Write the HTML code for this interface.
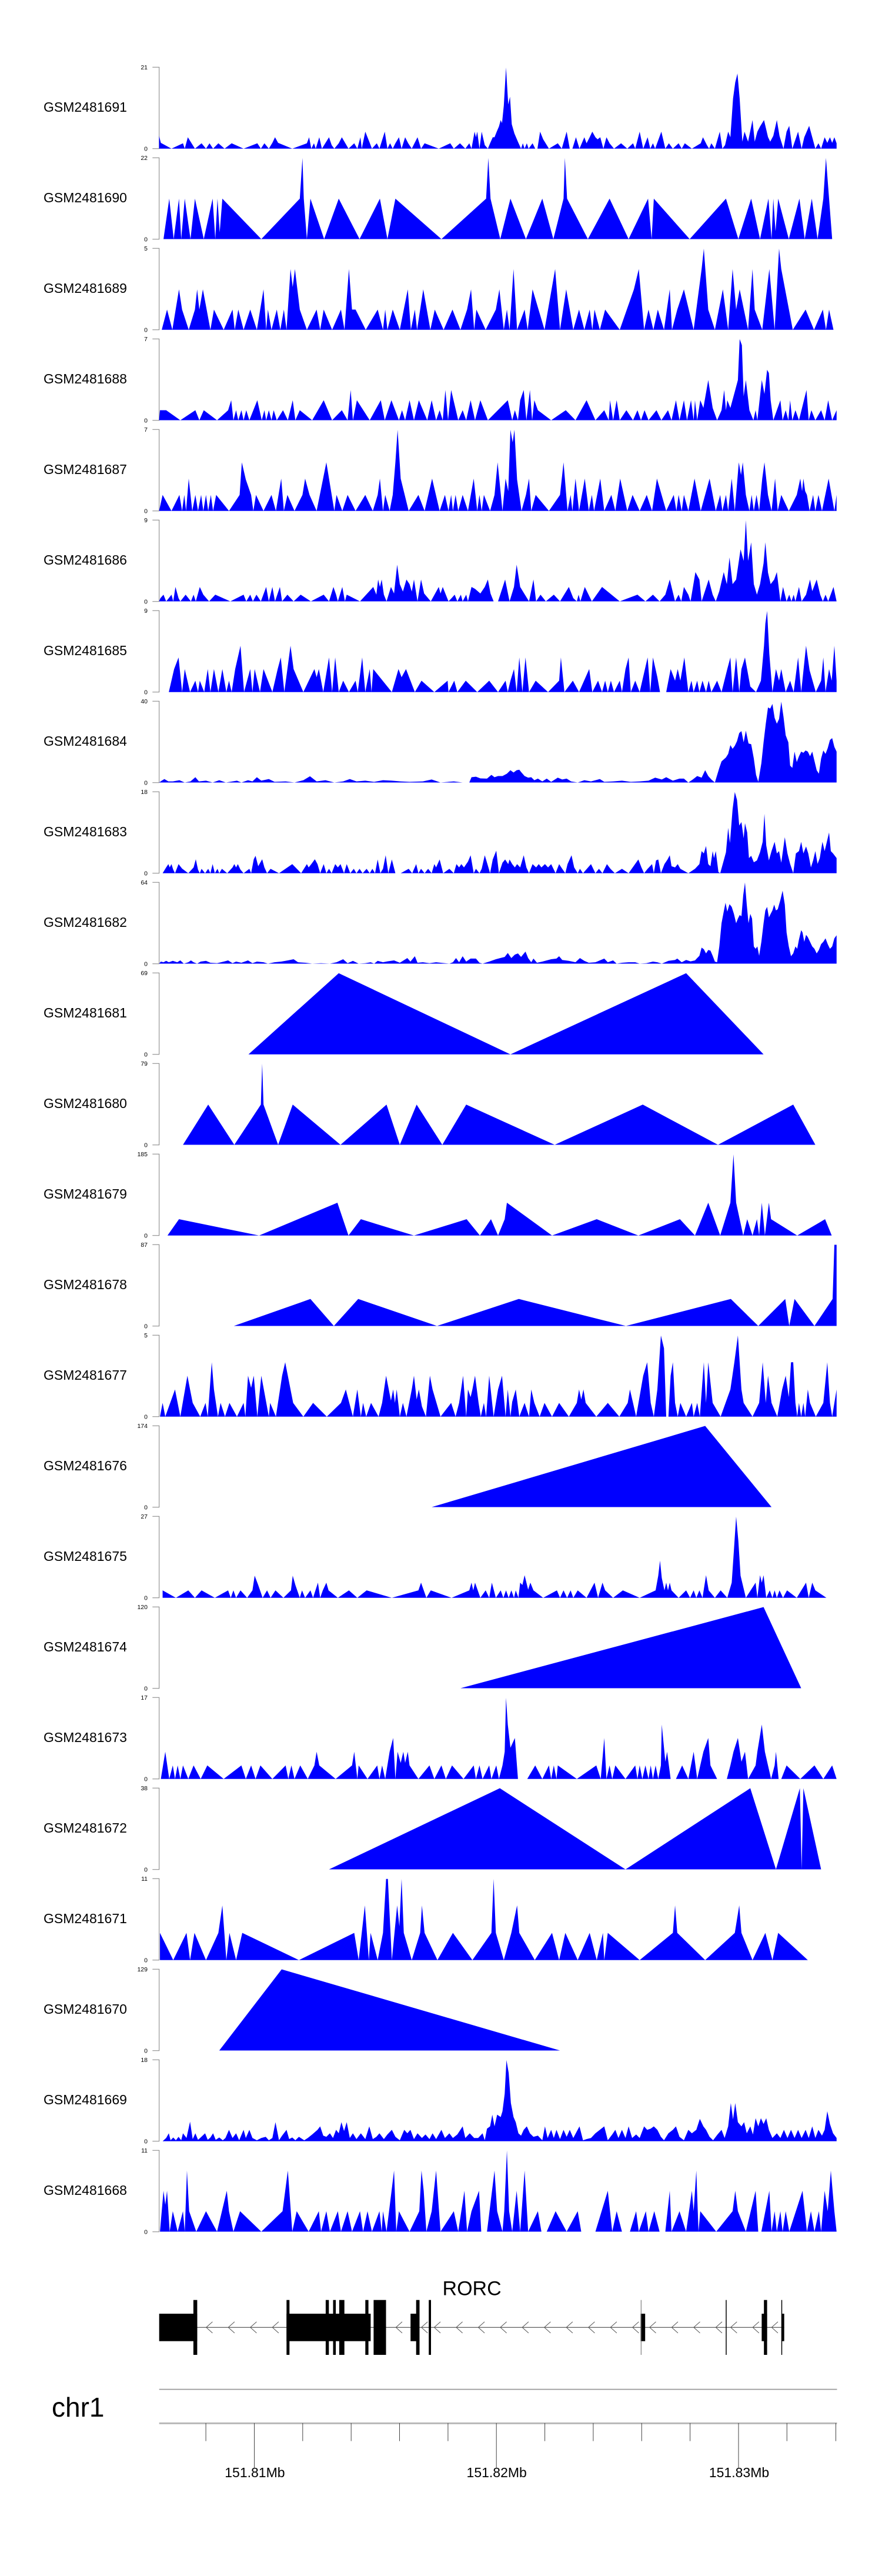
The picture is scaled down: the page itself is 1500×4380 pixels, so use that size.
<!DOCTYPE html>
<html>
<head>
<meta charset="utf-8">
<style>
html,body{margin:0;padding:0;background:#fff;}
svg{display:block;}
</style>
</head>
<body>
<svg xmlns="http://www.w3.org/2000/svg" width="1500" height="4380" viewBox="0 0 1500 4380" font-family="'Liberation Sans', Arial, sans-serif">
<rect x="0" y="0" width="1500" height="4380" fill="#ffffff"/>

<!-- Track labels -->
<g font-size="23" fill="#000">
<text x="74" y="190">GSM2481691</text>
<text x="74" y="344">GSM2481690</text>
<text x="74" y="498">GSM2481689</text>
<text x="74" y="652">GSM2481688</text>
<text x="74" y="806">GSM2481687</text>
<text x="74" y="960">GSM2481686</text>
<text x="74" y="1114">GSM2481685</text>
<text x="74" y="1268">GSM2481684</text>
<text x="74" y="1422">GSM2481683</text>
<text x="74" y="1576">GSM2481682</text>
<text x="74" y="1730">GSM2481681</text>
<text x="74" y="1884">GSM2481680</text>
<text x="74" y="2038">GSM2481679</text>
<text x="74" y="2192">GSM2481678</text>
<text x="74" y="2346">GSM2481677</text>
<text x="74" y="2500">GSM2481676</text>
<text x="74" y="2654">GSM2481675</text>
<text x="74" y="2808">GSM2481674</text>
<text x="74" y="2962">GSM2481673</text>
<text x="74" y="3116">GSM2481672</text>
<text x="74" y="3270">GSM2481671</text>
<text x="74" y="3424">GSM2481670</text>
<text x="74" y="3578">GSM2481669</text>
<text x="74" y="3732">GSM2481668</text>
</g>

<!-- Axes -->
<g fill="none" stroke="#808080" stroke-width="1">
<path d="M259.3,114.3H270.7V252.7H259.3"/>
<path d="M259.3,268.3H270.7V406.7H259.3"/>
<path d="M259.3,422.3H270.7V560.7H259.3"/>
<path d="M259.3,576.3H270.7V714.7H259.3"/>
<path d="M259.3,730.3H270.7V868.7H259.3"/>
<path d="M259.3,884.3H270.7V1022.7H259.3"/>
<path d="M259.3,1038.3H270.7V1176.7H259.3"/>
<path d="M259.3,1192.3H270.7V1330.7H259.3"/>
<path d="M259.3,1346.3H270.7V1484.7H259.3"/>
<path d="M259.3,1500.3H270.7V1638.7H259.3"/>
<path d="M259.3,1654.3H270.7V1792.7H259.3"/>
<path d="M259.3,1808.3H270.7V1946.7H259.3"/>
<path d="M259.3,1962.3H270.7V2100.7H259.3"/>
<path d="M259.3,2116.3H270.7V2254.7H259.3"/>
<path d="M259.3,2270.3H270.7V2408.7H259.3"/>
<path d="M259.3,2424.3H270.7V2562.7H259.3"/>
<path d="M259.3,2578.3H270.7V2716.7H259.3"/>
<path d="M259.3,2732.3H270.7V2870.7H259.3"/>
<path d="M259.3,2886.3H270.7V3024.7H259.3"/>
<path d="M259.3,3040.3H270.7V3178.7H259.3"/>
<path d="M259.3,3194.3H270.7V3332.7H259.3"/>
<path d="M259.3,3348.3H270.7V3486.7H259.3"/>
<path d="M259.3,3502.3H270.7V3640.7H259.3"/>
<path d="M259.3,3656.3H270.7V3794.7H259.3"/>
</g>

<!-- Tick labels -->
<g font-size="10.5" fill="#000" text-anchor="end">
<text x="251" y="118">21</text><text x="251" y="256.4">0</text>
<text x="251" y="272">22</text><text x="251" y="410.4">0</text>
<text x="251" y="426">5</text><text x="251" y="564.4">0</text>
<text x="251" y="580">7</text><text x="251" y="718.4">0</text>
<text x="251" y="734">7</text><text x="251" y="872.4">0</text>
<text x="251" y="888">9</text><text x="251" y="1026.4">0</text>
<text x="251" y="1042">9</text><text x="251" y="1180.4">0</text>
<text x="251" y="1196">40</text><text x="251" y="1334.4">0</text>
<text x="251" y="1350">18</text><text x="251" y="1488.4">0</text>
<text x="251" y="1504">64</text><text x="251" y="1642.4">0</text>
<text x="251" y="1658">69</text><text x="251" y="1796.4">0</text>
<text x="251" y="1812">79</text><text x="251" y="1950.4">0</text>
<text x="251" y="1966">185</text><text x="251" y="2104.4">0</text>
<text x="251" y="2120">87</text><text x="251" y="2258.4">0</text>
<text x="251" y="2274">5</text><text x="251" y="2412.4">0</text>
<text x="251" y="2428">174</text><text x="251" y="2566.4">0</text>
<text x="251" y="2582">27</text><text x="251" y="2720.4">0</text>
<text x="251" y="2736">120</text><text x="251" y="2874.4">0</text>
<text x="251" y="2890">17</text><text x="251" y="3028.4">0</text>
<text x="251" y="3044">38</text><text x="251" y="3182.4">0</text>
<text x="251" y="3198">11</text><text x="251" y="3336.4">0</text>
<text x="251" y="3352">129</text><text x="251" y="3490.4">0</text>
<text x="251" y="3506">18</text><text x="251" y="3644.4">0</text>
<text x="251" y="3660">11</text><text x="251" y="3798.4">0</text>
</g>

<!-- Data group 1: tracks 0-3 -->
<g fill="#0000ff" stroke="none" transform="translate(260,100.5) scale(0.7526,0.3954)">
<polygon points="14,385 14,330 18,360 42,385 68,362 72,385 79,336 95,385 110,362 120,385 128,362 136,385 148,362 162,385 178,362 205,385 236,362 244,385 252,362 262,385 270,360 276,336 283,360 315,385 348,362 353,336 358,385 364,362 368,385 376,336 382,385 398,336 404,370 410,385 420,362 427,336 442,385 455,362 462,385 469,336 472,385 480,312 490,360 495,385 506,362 512,385 524,312 530,385 536,362 542,385 548,362 556,336 562,385 570,336 577,362 585,385 598,336 606,385 614,362 646,385 672,362 680,385 694,362 706,385 715,362 720,385 727,312 730,336 733,312 738,385 743,312 750,370 757,385 762,362 768,336 772,336 777,312 782,290 786,262 789,275 793,200 798,36 803,195 807,162 811,280 817,320 826,360 832,385 836,362 840,385 845,362 849,385 858,362 864,385 869,385 875,312 882,345 895,385 915,362 924,385 935,312 942,385 948,385 956,336 964,385 975,336 980,362 987,336 993,312 1000,336 1005,345 1011,336 1018,385 1025,336 1032,362 1042,385 1058,362 1072,385 1085,362 1090,385 1100,312 1108,385 1118,336 1124,385 1130,362 1135,385 1149,312 1158,385 1166,362 1175,385 1188,362 1195,385 1202,362 1218,385 1238,362 1243,336 1252,370 1257,385 1262,362 1270,385 1281,312 1287,385 1293,370 1300,312 1305,336 1311,170 1316,100 1321,62 1326,170 1332,355 1337,312 1345,355 1355,262 1360,355 1366,312 1372,290 1381,262 1390,335 1395,355 1402,330 1410,262 1416,330 1420,355 1425,385 1432,312 1438,287 1445,385 1458,312 1466,385 1472,336 1483,287 1490,336 1497,385 1504,362 1510,385 1518,336 1524,360 1530,336 1535,360 1540,336 1545,362 1545,385"/>
<polygon points="24,774 37,600 47,774 59,600 64,774 72,600 85,774 95,600 115,774 135,600 141,774 146,600 151,745 157,600 245,774 332,600 338,425 341,600 348,774 356,600 387,774 420,600 467,774 513,600 530,774 548,600 652,774 753,600 758,425 763,600 785,774 808,600 843,774 880,600 905,774 928,600 931,425 936,600 983,774 1032,600 1075,774 1119,600 1127,774 1132,600 1213,774 1295,600 1323,774 1352,600 1372,774 1391,600 1398,774 1402,600 1407,740 1413,600 1437,774 1461,600 1473,774 1489,600 1502,774 1515,600 1521,425 1535,774"/>
<polygon points="20,1164 32,1077 44,1164 59,990 66,1077 81,1164 95,1077 100,990 105,1077 113,990 130,1164 138,1077 160,1164 180,1077 185,1164 193,1077 205,1164 220,1077 235,1164 250,990 256,1164 260,1077 268,1164 280,1077 288,1164 296,1077 302,1164 311,903 316,980 321,903 332,1077 348,1164 370,1077 378,1164 386,1077 405,1164 425,1077 433,1164 443,903 450,1077 458,1077 481,1164 508,1077 520,1164 525,1077 530,1164 542,1077 558,1164 576,990 583,1164 592,1077 597,1164 611,990 627,1164 637,1077 657,1164 677,1077 695,1164 710,1077 719,990 726,1164 731,1077 752,1164 775,1077 783,990 793,1164 800,1077 806,1164 815,903 823,1164 840,1077 847,1164 858,990 885,1164 909,903 920,1164 934,990 950,1164 963,1077 975,1164 987,1077 993,1164 998,1077 1010,1164 1022,1077 1055,1164 1087,990 1098,903 1110,1164 1120,1077 1131,1164 1141,1077 1155,1164 1168,990 1173,1164 1185,1077 1200,990 1222,1164 1240,903 1245,815 1255,1077 1270,1164 1288,990 1300,1164 1310,903 1318,1077 1326,990 1345,1164 1355,903 1360,1077 1377,1164 1393,903 1405,1164 1415,815 1420,903 1446,1164 1475,1077 1494,1164 1514,1077 1521,1164 1528,1077 1538,1164"/>
<polygon points="14,1553 16,1510 30,1510 62,1553 96,1510 105,1553 115,1510 145,1553 170,1510 177,1467 182,1553 188,1510 193,1553 200,1510 205,1553 211,1510 218,1553 236,1467 246,1553 252,1510 256,1553 262,1510 268,1553 273,1510 280,1553 294,1510 305,1553 316,1467 322,1553 332,1510 360,1553 386,1467 405,1553 427,1510 440,1553 447,1423 452,1553 461,1467 490,1553 515,1467 524,1553 539,1467 556,1553 563,1510 570,1553 580,1467 590,1553 601,1467 620,1553 630,1467 640,1553 648,1510 655,1553 661,1423 667,1553 674,1423 690,1553 700,1510 708,1553 718,1467 728,1553 740,1467 757,1553 802,1467 812,1553 818,1510 825,1553 830,1467 838,1423 844,1553 852,1423 857,1553 862,1467 870,1510 900,1553 933,1510 955,1553 980,1467 1000,1553 1020,1510 1030,1553 1033,1467 1040,1553 1048,1467 1055,1553 1070,1510 1085,1553 1095,1510 1103,1553 1111,1510 1120,1553 1138,1510 1149,1553 1164,1510 1172,1553 1182,1467 1190,1553 1200,1467 1207,1553 1216,1467 1222,1553 1225,1467 1230,1553 1237,1467 1244,1500 1255,1380 1265,1500 1275,1553 1285,1510 1291,1423 1295,1510 1298,1467 1305,1500 1315,1430 1322,1380 1326,1204 1331,1230 1335,1450 1340,1380 1348,1510 1357,1553 1362,1510 1366,1553 1376,1380 1382,1440 1388,1336 1392,1350 1396,1467 1402,1553 1410,1510 1418,1467 1423,1553 1430,1510 1436,1553 1440,1467 1445,1553 1452,1510 1460,1553 1477,1423 1482,1553 1488,1510 1497,1553 1510,1510 1518,1553 1526,1467 1535,1553 1545,1510 1545,1553"/>
</g>

<!-- Data group 2: tracks 4-7 -->
<g fill="#0000ff" stroke="none" transform="translate(260,716.5) scale(0.7526,0.3954)">
<polygon points="14,385 22,316 42,385 60,316 66,385 71,316 75,385 81,246 89,385 96,316 102,385 109,316 114,385 120,316 125,385 131,316 136,385 143,316 172,385 196,316 201,176 210,250 222,316 227,385 233,316 250,385 268,316 278,385 290,246 296,385 304,316 320,385 338,316 344,246 354,316 370,385 392,176 410,385 415,316 428,385 440,316 458,385 480,316 497,385 508,316 513,246 520,385 525,316 535,385 542,316 548,176 553,36 560,246 578,385 600,316 614,385 631,246 648,385 660,316 668,385 674,316 678,385 684,316 690,385 700,316 712,385 725,246 733,385 738,316 743,385 748,316 762,385 772,316 779,176 790,385 797,246 803,300 808,36 813,90 817,36 823,250 833,385 843,316 850,246 855,385 865,316 895,385 920,316 928,176 937,385 944,316 948,385 955,246 963,385 976,246 985,385 992,316 997,385 1011,246 1020,385 1036,316 1045,385 1056,246 1072,385 1084,316 1100,385 1116,316 1128,385 1139,246 1160,385 1177,316 1183,385 1188,316 1195,385 1200,316 1210,385 1224,246 1238,385 1258,246 1272,385 1282,316 1287,385 1295,316 1300,385 1308,246 1315,385 1324,176 1329,230 1333,176 1340,316 1348,385 1353,316 1358,385 1364,316 1370,385 1377,246 1382,176 1390,316 1398,385 1406,246 1412,385 1420,316 1437,385 1455,316 1463,246 1467,300 1470,246 1474,300 1478,316 1484,385 1492,316 1497,385 1504,316 1512,385 1527,246 1540,385 1545,316 1545,385"/>
<polygon points="14,774 17,760 24,745 30,774 36,760 42,745 46,774 51,712 58,760 62,774 74,745 86,774 92,745 97,774 106,712 114,745 127,774 141,745 175,774 205,745 211,774 220,745 226,774 234,745 244,774 256,712 262,774 270,712 276,774 287,712 292,774 304,745 318,774 334,745 357,774 386,745 398,774 408,712 414,745 418,774 428,712 434,774 438,745 468,774 498,712 505,745 509,680 513,712 517,680 522,745 528,774 538,712 545,740 552,616 558,700 565,732 573,680 580,700 585,732 590,680 598,774 606,680 613,740 628,774 646,712 650,740 655,712 668,774 675,760 682,745 688,774 696,745 700,774 708,745 712,774 720,712 728,720 740,740 750,712 757,680 763,740 770,774 780,774 796,680 806,774 816,712 822,616 830,712 850,774 860,680 866,774 876,745 888,774 906,745 920,774 940,712 950,760 958,774 962,745 966,774 976,712 992,774 1015,712 1055,774 1095,745 1113,774 1130,745 1145,774 1158,745 1168,680 1180,774 1188,745 1194,774 1200,712 1210,745 1215,774 1226,648 1235,680 1240,774 1256,680 1265,745 1272,774 1280,730 1290,648 1297,700 1303,585 1310,700 1318,680 1328,550 1335,600 1340,425 1345,600 1352,520 1358,700 1365,745 1372,700 1380,610 1384,520 1390,650 1396,700 1404,680 1410,648 1418,774 1424,712 1432,774 1438,745 1443,774 1448,745 1452,774 1460,712 1466,774 1476,745 1485,680 1490,730 1500,680 1508,745 1514,774 1520,745 1526,774 1538,712 1545,774"/>
<polygon points="36,1164 48,1065 58,1015 66,1164 72,1065 84,1164 96,1115 102,1164 106,1115 116,1164 124,1065 130,1164 138,1065 148,1164 157,1065 166,1164 172,1115 178,1164 186,1065 198,965 206,1164 220,1065 225,1164 230,1065 242,1164 250,1065 270,1164 282,1065 289,1015 297,1164 311,965 318,1065 340,1164 365,1065 370,1100 375,1065 385,1164 398,1015 405,1164 412,1015 420,1164 430,1115 443,1164 458,1115 463,1164 473,1015 480,1164 490,1065 494,1164 498,1065 540,1164 555,1065 562,1100 572,1065 592,1164 607,1115 636,1164 666,1115 668,1164 681,1115 688,1164 707,1115 733,1164 760,1115 780,1164 797,1115 802,1164 808,1115 816,1065 822,1164 828,1015 835,1164 842,1015 850,1164 865,1115 893,1164 918,1115 922,1015 930,1164 949,1115 963,1164 986,1065 993,1164 1006,1115 1015,1164 1022,1115 1028,1164 1035,1115 1042,1164 1055,1115 1060,1164 1068,1065 1075,1015 1080,1164 1090,1115 1100,1164 1118,1015 1124,1164 1130,1015 1140,1100 1146,1164 1160,1164 1170,1065 1180,1115 1186,1065 1192,1115 1201,1015 1210,1164 1217,1115 1222,1164 1230,1115 1235,1164 1242,1115 1250,1164 1256,1115 1262,1164 1275,1115 1285,1164 1298,1065 1305,1015 1310,1164 1318,1015 1325,1164 1330,1065 1338,1015 1350,1140 1363,1164 1374,1115 1381,965 1384,870 1388,815 1393,1000 1400,1164 1408,1065 1415,1115 1420,1065 1430,1164 1440,1115 1448,1164 1458,1015 1465,1164 1476,965 1484,1070 1498,1164 1510,1115 1515,1015 1520,1164 1528,1065 1534,1115 1540,965 1545,1115 1545,1164"/>
<polygon points="14,1553 20,1545 26,1538 35,1548 45,1548 60,1543 72,1553 85,1548 96,1530 104,1548 120,1545 135,1553 150,1543 165,1553 190,1545 200,1553 215,1543 225,1548 235,1530 245,1545 262,1538 275,1550 300,1548 320,1553 340,1543 355,1526 370,1548 390,1543 410,1553 430,1548 445,1538 460,1548 480,1545 500,1550 520,1543 540,1545 560,1548 580,1550 610,1548 630,1540 650,1553 680,1548 700,1553 715,1553 720,1530 730,1528 740,1535 755,1536 765,1520 772,1530 780,1525 790,1525 800,1515 808,1500 815,1510 822,1500 828,1498 833,1510 840,1525 848,1532 855,1530 862,1543 870,1536 880,1548 890,1536 900,1550 915,1532 925,1540 935,1536 945,1548 960,1553 975,1543 990,1548 1010,1538 1020,1550 1040,1548 1060,1545 1080,1550 1100,1548 1120,1545 1135,1532 1150,1540 1160,1530 1175,1545 1190,1536 1200,1536 1210,1553 1220,1540 1230,1525 1240,1532 1248,1500 1255,1525 1262,1540 1270,1553 1280,1490 1285,1462 1295,1445 1300,1430 1305,1392 1310,1408 1315,1395 1320,1375 1325,1340 1330,1332 1335,1380 1340,1330 1346,1385 1352,1388 1358,1450 1363,1520 1368,1550 1375,1470 1380,1380 1385,1300 1390,1230 1395,1235 1400,1215 1405,1275 1410,1300 1415,1280 1420,1205 1425,1270 1430,1350 1436,1380 1440,1480 1445,1490 1450,1420 1455,1465 1460,1440 1465,1420 1470,1425 1475,1415 1480,1420 1485,1440 1490,1420 1495,1460 1500,1500 1505,1515 1510,1450 1515,1415 1520,1430 1525,1405 1530,1370 1535,1362 1540,1400 1545,1420 1545,1553"/>
</g>

<!-- Data group 3: tracks 8-11 -->
<g fill="#0000ff" stroke="none" transform="translate(260,1332.5) scale(0.7526,0.3954)">
<polygon points="22,385 30,360 35,346 38,360 42,346 46,370 50,385 58,346 66,365 80,385 92,360 97,325 102,370 106,385 110,366 118,385 125,366 130,385 135,346 140,385 146,366 150,385 156,366 168,385 180,360 184,346 188,360 192,346 198,370 205,385 218,366 222,385 228,325 232,310 238,355 247,325 252,360 258,385 266,366 285,385 315,346 335,385 348,346 352,360 358,346 366,325 372,346 378,385 386,346 392,385 398,366 404,385 412,346 418,360 424,346 432,385 438,346 446,385 454,366 460,385 467,366 474,385 483,366 490,385 496,366 502,385 508,326 514,385 520,366 526,308 532,385 540,326 548,385 560,385 578,366 586,385 595,346 600,385 606,366 614,385 622,366 630,385 636,346 640,360 648,326 656,385 670,366 680,385 686,346 692,360 697,346 703,360 712,335 718,308 725,385 730,366 738,385 743,366 750,308 756,346 762,385 768,326 776,288 782,385 790,340 796,326 803,346 806,326 812,346 818,360 823,346 830,360 838,308 844,360 850,385 858,346 866,360 872,346 878,360 886,346 893,360 900,346 910,385 918,346 925,366 932,385 937,346 946,308 952,360 960,385 965,366 972,385 990,346 1000,385 1008,366 1016,385 1026,346 1034,366 1044,385 1060,366 1075,385 1097,326 1104,360 1110,385 1118,366 1128,346 1132,385 1137,330 1142,326 1148,385 1156,346 1163,326 1168,308 1172,355 1180,360 1186,346 1192,366 1210,385 1225,366 1235,346 1240,290 1245,300 1250,268 1255,346 1260,355 1265,290 1268,320 1272,290 1278,380 1282,385 1290,330 1295,295 1300,190 1304,255 1310,110 1315,36 1320,70 1325,180 1330,165 1335,235 1338,170 1343,210 1347,320 1352,310 1358,338 1365,330 1372,295 1378,250 1382,130 1386,265 1392,330 1398,290 1405,250 1410,300 1415,290 1420,340 1428,230 1434,300 1440,345 1447,385 1453,300 1460,290 1465,250 1470,300 1476,270 1481,300 1487,360 1492,330 1497,290 1502,345 1507,320 1513,250 1518,290 1523,250 1528,210 1532,290 1537,300 1545,320 1545,385"/>
<polygon points="14,774 18,765 24,768 30,762 36,768 45,762 55,768 62,760 70,774 80,768 86,760 92,768 100,774 108,765 120,762 130,770 145,772 160,765 170,760 180,772 188,765 200,770 215,760 225,772 235,765 250,768 260,774 275,768 290,765 305,760 318,755 328,768 345,770 360,774 380,772 400,774 415,768 430,755 440,772 452,762 465,774 480,772 492,768 500,774 508,762 520,768 530,764 545,760 558,770 575,750 582,765 592,742 598,770 610,768 625,772 640,768 660,772 670,774 678,768 685,750 692,768 700,742 708,765 718,752 730,752 738,770 745,774 760,765 775,755 785,750 795,745 802,728 810,750 818,735 825,730 832,745 842,722 848,750 855,768 860,752 868,770 880,765 890,760 900,755 912,752 918,742 925,758 940,762 955,768 965,750 975,762 985,770 1000,768 1010,760 1020,752 1028,768 1040,760 1048,774 1060,770 1075,768 1090,768 1100,774 1115,772 1130,765 1140,768 1150,774 1165,762 1180,758 1185,752 1195,768 1205,758 1215,764 1225,760 1230,750 1235,740 1240,705 1245,712 1250,730 1255,715 1260,718 1265,740 1270,765 1275,768 1280,700 1285,600 1290,550 1294,512 1298,550 1303,518 1308,530 1313,560 1318,600 1322,580 1326,565 1330,570 1334,480 1338,425 1342,520 1346,600 1350,560 1354,580 1358,700 1362,710 1366,700 1370,740 1375,680 1380,600 1384,545 1388,530 1392,575 1396,560 1400,545 1404,520 1408,545 1412,540 1418,500 1423,460 1428,520 1432,640 1437,700 1442,742 1447,730 1452,700 1456,710 1460,670 1465,630 1468,640 1472,680 1476,650 1480,660 1485,680 1490,700 1495,710 1500,730 1505,715 1510,690 1515,680 1520,665 1525,690 1530,710 1535,700 1540,665 1545,652 1545,774"/>
<polygon points="216,1164 420,815 808,1164 1205,815 1380,1164"/>
<polygon points="68,1553 125,1380 184,1553 244,1380 247,1204 250,1380 283,1553 316,1380 424,1553 528,1380 558,1553 596,1380 654,1553 708,1380 908,1553 1107,1380 1277,1553 1447,1380 1497,1553"/>
</g>

<!-- Data group 4: tracks 12-15 -->
<g fill="#0000ff" stroke="none" transform="translate(260,1948.5) scale(0.7526,0.3954)">
<polygon points="33,385 59,315 240,385 417,244 442,385 470,315 590,385 709,315 739,385 764,315 780,385 795,315 800,244 902,385 1003,315 1097,385 1191,315 1225,385 1255,244 1282,385 1305,244 1312,36 1318,244 1334,385 1343,315 1355,385 1365,315 1370,385 1376,244 1383,385 1392,244 1397,315 1456,385 1519,315 1534,385"/>
<polygon points="183,774 356,658 409,774 464,658 642,774 827,658 1069,774 1306,658 1368,774 1429,658 1438,774 1450,658 1495,774 1536,658 1540,425 1545,425 1545,774"/>
<polygon points="16,1164 22,1105 28,1164 50,1047 62,1164 78,988 84,1047 90,1105 107,1164 119,1105 124,1164 133,930 138,1047 147,1164 153,1105 163,1164 173,1105 190,1164 205,1105 209,1164 215,988 222,1040 228,988 236,1164 245,988 252,1060 262,1164 265,1105 278,1164 292,988 299,930 317,1105 340,1164 362,1105 393,1164 425,1105 436,1047 452,1164 462,1047 470,1164 475,1105 482,1164 493,1105 510,1164 518,1105 527,988 538,1095 543,1047 547,1105 551,1047 558,1164 565,1105 573,1164 585,1047 590,988 596,1090 601,1047 608,1120 617,1164 626,988 632,1047 650,1164 674,1105 684,1164 692,1105 701,988 708,1164 712,1047 718,1080 722,1047 728,988 736,1105 741,1164 748,1105 753,1164 760,988 770,1164 780,1047 789,988 797,1164 802,1047 808,1164 812,1100 820,1047 828,1164 840,1105 850,1164 855,1047 862,1105 874,1164 885,1105 902,1164 918,1105 940,1164 958,1105 963,1047 968,1090 973,1047 978,1105 1002,1164 1028,1105 1054,1164 1073,1105 1078,1047 1085,1105 1092,1164 1108,988 1117,930 1125,1105 1132,1164 1140,1047 1148,815 1155,870 1160,1164 1165,1164 1170,988 1175,930 1180,1105 1186,1164 1192,1105 1205,1164 1218,1105 1222,1164 1230,1105 1236,1164 1245,930 1250,1105 1255,930 1265,1105 1283,1164 1305,1047 1314,930 1322,815 1330,1047 1335,1105 1355,1164 1370,1105 1378,930 1385,1105 1390,988 1398,1105 1411,1164 1422,1047 1430,988 1437,1080 1442,930 1447,930 1452,1105 1456,1164 1460,1105 1465,1164 1470,1105 1474,1164 1480,1047 1485,1105 1498,1164 1515,1105 1524,930 1530,1105 1535,1164 1540,1105 1545,1047 1545,1164"/>
<polygon points="630,1553 1248,1204 1398,1553"/>
</g>

<!-- Data group 5: tracks 16-19 -->
<g fill="#0000ff" stroke="none" transform="translate(260,2564.5) scale(0.7526,0.3954)">
<polygon points="22,385 22,353 52,385 80,353 95,385 110,353 140,385 170,353 176,385 182,353 188,385 198,353 213,385 225,353 230,290 238,330 248,385 258,353 266,385 277,353 295,385 312,353 316,290 322,330 332,385 337,353 344,385 356,353 362,385 373,320 378,385 384,353 392,320 397,353 418,385 443,353 462,385 483,353 540,385 600,353 606,320 618,385 628,353 675,385 715,353 720,320 724,353 728,320 740,385 752,353 760,385 766,320 775,385 786,353 792,385 798,353 804,385 810,353 816,385 820,353 826,385 830,320 835,330 840,288 848,350 853,320 860,353 882,385 913,353 920,385 928,353 936,385 944,353 950,385 960,353 980,385 998,320 1006,385 1016,320 1022,353 1040,385 1062,353 1100,385 1136,353 1142,290 1146,225 1150,300 1156,353 1160,320 1164,353 1168,320 1172,353 1188,385 1205,353 1214,385 1222,353 1228,385 1235,353 1242,385 1250,288 1256,353 1270,385 1283,353 1298,385 1308,320 1313,180 1318,36 1323,140 1328,290 1340,385 1362,320 1366,385 1372,288 1376,320 1380,288 1386,385 1394,353 1400,385 1405,353 1410,385 1416,353 1424,385 1433,353 1455,385 1476,320 1482,385 1490,320 1497,353 1522,385"/>
<polygon points="695,774 1380,425 1465,774"/>
<polygon points="18,1164 28,1047 37,1164 45,1106 50,1164 56,1106 62,1164 68,1106 80,1164 92,1106 108,1164 123,1106 160,1164 200,1106 210,1164 222,1106 232,1164 243,1106 270,1164 300,1106 306,1164 313,1106 320,1164 333,1106 350,1164 365,1106 370,1047 376,1106 413,1164 450,1106 455,1047 462,1164 465,1106 485,1164 507,1106 512,1164 518,1106 525,1164 535,1047 543,988 548,1164 553,1047 560,1095 566,1047 570,1095 576,1047 580,1106 600,1164 625,1106 636,1164 652,1106 662,1164 676,1106 702,1164 725,1106 730,1164 738,1106 745,1164 760,1106 765,1164 776,1106 782,1164 790,1106 795,1047 798,815 802,930 808,1030 818,988 825,1164 846,1164 864,1106 880,1164 895,1106 900,1164 906,1106 912,1164 915,1106 958,1164 1002,1106 1012,1164 1020,988 1025,1164 1032,1106 1038,1164 1045,1106 1068,1164 1090,1106 1095,1164 1100,1106 1106,1164 1113,1106 1120,1164 1125,1106 1130,1164 1136,1106 1142,1164 1148,1106 1150,930 1158,1090 1162,1047 1170,1164 1182,1164 1196,1106 1210,1164 1222,1047 1230,1164 1244,1047 1255,988 1260,1106 1275,1164 1297,1164 1305,1106 1312,1047 1322,988 1330,1090 1338,1047 1345,1164 1362,1106 1366,1047 1376,930 1383,1047 1390,1106 1397,1164 1405,1106 1408,1047 1414,1164 1420,1164 1432,1106 1463,1164 1495,1106 1515,1164 1535,1106 1545,1164"/>
<polygon points="398,1553 784,1204 1068,1553 1350,1204 1408,1553 1462,1204 1466,1553 1470,1204 1510,1553"/>
</g>

<!-- Data group 6: tracks 20-23 -->
<g fill="#0000ff" stroke="none" transform="translate(260,3180.5) scale(0.7526,0.3954)">
<polygon points="16,385 16,268 46,385 76,268 84,385 94,268 120,385 148,268 157,150 166,385 173,268 188,385 202,268 330,385 455,268 465,385 479,150 488,385 492,268 508,385 520,268 527,36 531,36 540,385 552,150 557,240 562,36 567,268 585,385 604,268 608,150 614,268 643,385 678,268 722,385 765,268 770,36 775,268 793,385 810,268 823,150 828,268 863,385 902,268 918,385 932,268 960,385 987,268 1003,385 1017,268 1020,385 1028,268 1100,385 1175,268 1180,150 1185,268 1248,385 1315,268 1325,150 1330,268 1355,385 1384,268 1400,385 1413,268 1480,385"/>
<polygon points="150,774 291,425 920,774"/>
<polygon points="22,1164 30,1150 36,1130 40,1160 46,1148 52,1160 58,1145 64,1160 68,1130 76,1150 84,1080 90,1155 96,1130 102,1158 108,1148 118,1130 124,1158 130,1148 136,1130 142,1158 150,1148 158,1160 164,1150 172,1115 180,1150 188,1130 195,1160 205,1115 210,1150 218,1115 225,1150 235,1160 245,1150 255,1145 262,1160 270,1150 277,1082 285,1160 292,1140 302,1115 308,1155 315,1148 322,1160 330,1145 342,1160 350,1150 360,1135 372,1115 378,1100 385,1140 392,1145 400,1130 407,1150 414,1115 420,1130 426,1082 432,1120 438,1082 445,1150 452,1130 460,1155 470,1130 480,1155 489,1100 497,1155 505,1145 512,1130 522,1155 530,1135 540,1115 548,1145 558,1160 568,1115 575,1130 582,1115 590,1155 598,1130 608,1150 616,1135 625,1155 632,1130 640,1155 652,1115 660,1150 670,1130 678,1150 688,1135 700,1100 706,1150 716,1130 726,1150 735,1150 745,1130 750,1160 755,1110 762,1100 767,1050 772,1100 778,1050 786,1060 790,1035 795,960 799,815 804,870 809,1000 815,1060 820,1082 826,1130 832,1140 838,1115 845,1100 852,1130 860,1145 870,1140 880,1160 886,1100 892,1150 900,1115 906,1150 912,1115 920,1155 928,1115 935,1145 942,1115 950,1150 964,1100 972,1160 980,1155 990,1150 1000,1130 1010,1115 1020,1100 1028,1160 1038,1135 1045,1115 1052,1150 1060,1115 1068,1150 1075,1100 1083,1150 1092,1135 1100,1150 1110,1100 1117,1115 1125,1110 1132,1100 1140,1115 1148,1145 1155,1160 1165,1130 1175,1115 1182,1100 1190,1145 1200,1160 1210,1115 1218,1130 1228,1115 1236,1068 1244,1100 1250,1115 1258,1145 1266,1160 1276,1135 1285,1115 1292,1150 1300,1100 1306,1000 1311,1070 1316,1000 1322,1082 1330,1100 1336,1082 1342,1130 1350,1100 1356,1135 1362,1065 1368,1100 1374,1065 1380,1090 1386,1065 1392,1115 1400,1150 1410,1130 1418,1150 1426,1115 1434,1150 1442,1115 1450,1150 1458,1115 1466,1150 1475,1115 1482,1150 1490,1100 1497,1150 1504,1115 1512,1140 1518,1115 1524,1035 1530,1090 1537,1130 1545,1150 1545,1164"/>
<polygon points="16,1553 24,1377 28,1437 32,1377 38,1553 45,1465 56,1553 68,1465 72,1553 77,1290 82,1465 98,1553 120,1465 145,1553 167,1377 172,1465 182,1553 197,1465 245,1553 293,1465 305,1290 315,1553 325,1465 352,1553 375,1465 380,1553 392,1465 400,1553 418,1465 425,1553 440,1465 450,1553 468,1465 475,1553 485,1465 495,1553 512,1465 517,1553 520,1465 528,1553 545,1290 550,1553 556,1465 580,1553 602,1465 607,1290 612,1377 618,1553 630,1465 640,1290 650,1553 680,1465 690,1553 704,1377 710,1553 720,1465 737,1377 742,1553 755,1553 772,1290 778,1465 790,1553 794,1465 800,1204 805,1465 812,1553 822,1377 830,1553 840,1290 848,1553 870,1465 878,1553 890,1553 910,1465 935,1553 960,1465 968,1553 1000,1553 1028,1377 1038,1553 1048,1465 1060,1553 1078,1553 1092,1465 1098,1553 1114,1465 1120,1553 1133,1465 1145,1553 1158,1553 1168,1377 1172,1553 1190,1465 1205,1553 1218,1377 1222,1465 1228,1290 1233,1553 1237,1465 1273,1553 1310,1465 1316,1377 1322,1465 1340,1553 1362,1377 1368,1553 1375,1553 1393,1377 1398,1553 1405,1465 1410,1553 1418,1465 1423,1553 1430,1465 1438,1553 1468,1377 1478,1553 1487,1465 1495,1553 1505,1465 1510,1553 1518,1377 1525,1465 1532,1290 1540,1465 1545,1553"/>
</g>

<!-- Gene track -->
<text x="802.6" y="3902.7" font-size="34" text-anchor="middle" fill="#000">RORC</text>
<line x1="335" y1="3957.3" x2="1333.7" y2="3957.3" stroke="#333" stroke-width="1"/>
<g fill="none" stroke="#555" stroke-width="1">
<path d="M361.4,3947.7L350.7,3957.3L361.4,3966.9"/>
<path d="M398.9,3947.7L388.2,3957.3L398.9,3966.9"/>
<path d="M436.4,3947.7L425.7,3957.3L436.4,3966.9"/>
<path d="M473.9,3947.7L463.2,3957.3L473.9,3966.9"/>
<path d="M684,3947.7L673.3,3957.3L684,3966.9"/>
<path d="M727.3,3947.7L716.6,3957.3L727.3,3966.9"/>
<path d="M749.1,3947.7L738.4,3957.3L749.1,3966.9"/>
<path d="M786.6,3947.7L775.9,3957.3L786.6,3966.9"/>
<path d="M824.1,3947.7L813.4,3957.3L824.1,3966.9"/>
<path d="M861.6,3947.7L850.9,3957.3L861.6,3966.9"/>
<path d="M898.9,3947.7L888.2,3957.3L898.9,3966.9"/>
<path d="M936.4,3947.7L925.7,3957.3L936.4,3966.9"/>
<path d="M973.9,3947.7L963.2,3957.3L973.9,3966.9"/>
<path d="M1011.4,3947.7L1000.7,3957.3L1011.4,3966.9"/>
<path d="M1048.9,3947.7L1038.2,3957.3L1048.9,3966.9"/>
<path d="M1086.4,3947.7L1075.7,3957.3L1086.4,3966.9"/>
<path d="M1115.5,3947.7L1104.8,3957.3L1115.5,3966.9"/>
<path d="M1153,3947.7L1142.3,3957.3L1153,3966.9"/>
<path d="M1190.5,3947.7L1179.8,3957.3L1190.5,3966.9"/>
<path d="M1228,3947.7L1217.3,3957.3L1228,3966.9"/>
<path d="M1253.3,3947.7L1242.6,3957.3L1253.3,3966.9"/>
<path d="M1290.8,3947.7L1280.1,3957.3L1290.8,3966.9"/>
<path d="M1323,3947.7L1312.3,3957.3L1323,3966.9"/>
</g>
<g fill="#000">
<!-- medium boxes -->
<rect x="270.7" y="3934" width="64.7" height="46.7"/>
<rect x="487.3" y="3934" width="143.1" height="46.7"/>
<rect x="698.2" y="3934" width="15.3" height="46.7"/>
<rect x="1089.5" y="3934" width="7.7" height="46.7"/>
<rect x="1295.4" y="3934" width="9.2" height="46.7"/>
<rect x="1329.5" y="3934" width="4.2" height="46.7"/>
<!-- tall bars -->
<rect x="328.9" y="3910.7" width="6.5" height="93.3"/>
<rect x="487.3" y="3910.7" width="5" height="93.3"/>
<rect x="553.9" y="3910.7" width="5.4" height="93.3"/>
<rect x="566.5" y="3910.7" width="4.6" height="93.3"/>
<rect x="576.9" y="3910.7" width="8.8" height="93.3"/>
<rect x="621.3" y="3910.7" width="5.3" height="93.3"/>
<rect x="635.4" y="3910.7" width="21.1" height="93.3"/>
<rect x="707.7" y="3910.7" width="5.8" height="93.3"/>
<rect x="729.2" y="3910.7" width="3.8" height="93.3"/>
<rect x="1299.2" y="3910.7" width="5.4" height="93.3"/>
</g>
<line x1="1090.3" y1="3910.7" x2="1090.3" y2="4004" stroke="#666" stroke-width="1"/>
<line x1="1235" y1="3910.7" x2="1235" y2="4004" stroke="#000" stroke-width="1.5"/>
<line x1="1329.5" y1="3910.7" x2="1329.5" y2="4004" stroke="#000" stroke-width="1.5"/>

<!-- Chromosome axis -->
<text x="88" y="4108.8" font-size="46" fill="#000">chr1</text>
<line x1="270.7" y1="4062.6" x2="1423.5" y2="4062.6" stroke="#999" stroke-width="1.8"/>
<line x1="270.7" y1="4120" x2="1423.5" y2="4120" stroke="#888" stroke-width="1.2"/>
<line x1="270.7" y1="4121.5" x2="1423.5" y2="4121.5" stroke="#ccc" stroke-width="1.2"/>
<g stroke="#444" stroke-width="1">
<line x1="350.1" y1="4120" x2="350.1" y2="4150.6"/>
<line x1="432.5" y1="4120" x2="432.5" y2="4196"/>
<line x1="514.8" y1="4120" x2="514.8" y2="4150.6"/>
<line x1="597.2" y1="4120" x2="597.2" y2="4150.6"/>
<line x1="679.5" y1="4120" x2="679.5" y2="4150.6"/>
<line x1="761.9" y1="4120" x2="761.9" y2="4150.6"/>
<line x1="844.2" y1="4120" x2="844.2" y2="4196"/>
<line x1="926.6" y1="4120" x2="926.6" y2="4150.6"/>
<line x1="1008.9" y1="4120" x2="1008.9" y2="4150.6"/>
<line x1="1091.3" y1="4120" x2="1091.3" y2="4150.6"/>
<line x1="1173.6" y1="4120" x2="1173.6" y2="4150.6"/>
<line x1="1256" y1="4120" x2="1256" y2="4196"/>
<line x1="1338.3" y1="4120" x2="1338.3" y2="4150.6"/>
<line x1="1421.5" y1="4120" x2="1421.5" y2="4150.6"/>
</g>
<g font-size="23" fill="#000" text-anchor="middle">
<text x="433.4" y="4212">151.81Mb</text>
<text x="844.7" y="4212">151.82Mb</text>
<text x="1257" y="4212">151.83Mb</text>
</g>
</svg>
</body>
</html>
